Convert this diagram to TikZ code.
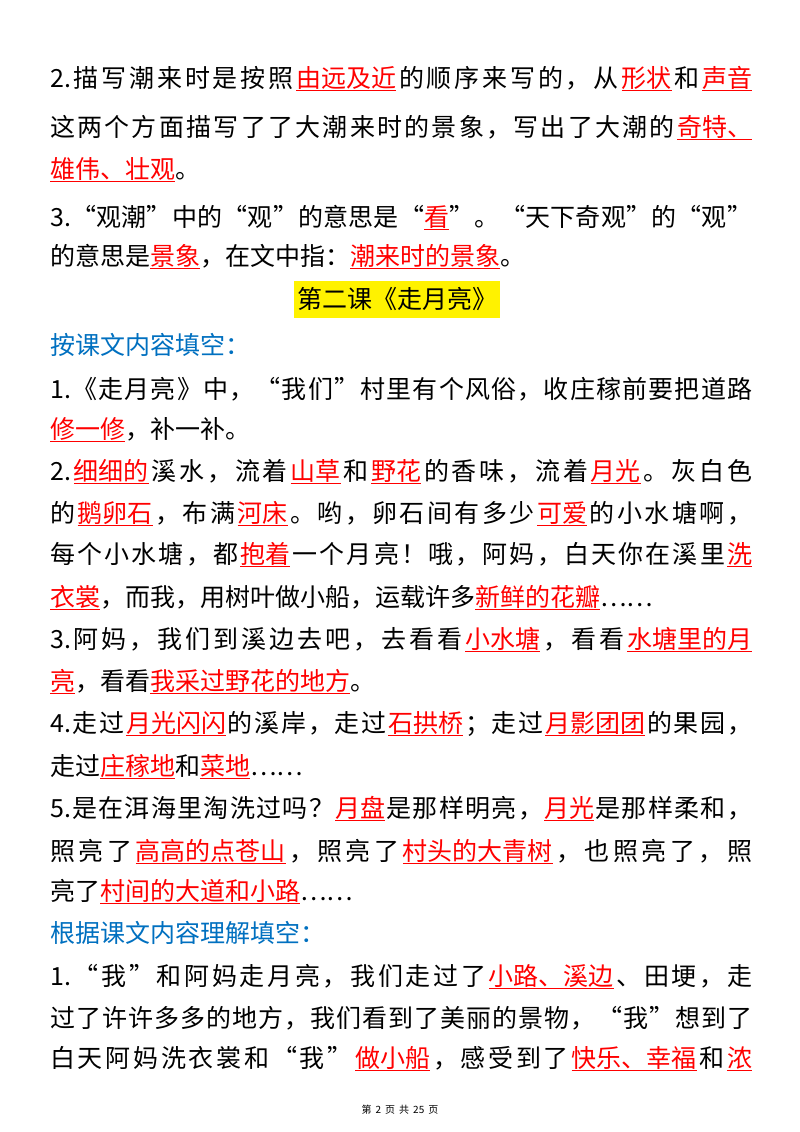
\documentclass[tikz,border=0pt]{standalone}
\usepackage{fontspec}
\setmainfont{Noto Sans CJK SC}
\definecolor{myred}{RGB}{255,0,0}
\definecolor{myblue}{RGB}{0,112,192}
\newcommand{\uu}[1]{{\color{myred}\underline{#1}}}
\makeatletter
\newcommand{\spread}[1]{\hbox to 702pt{\@tfor\xx:=#1\do{\xx\hfil}\unskip}}
\makeatother
\begin{document}
\begin{tikzpicture}[x=1pt,y=1pt,
  ln/.style={anchor=base west,inner sep=0pt,font=\fontsize{25}{30}\selectfont},
  bl/.style={ln,text=myblue}]
\useasboundingbox (0,0) rectangle (800,-1132);
\fill[white] (0,0) rectangle (800,-1132);
\node[ln] (l1) at (50,-87) {\spread{{2.}描写潮来时是按照{\uu{由远及近}}的顺序来写的，从{\uu{形状}}和{\uu{声音}}}};
\node[ln] (l2) at (50,-136) {\spread{这两个方面描写了了大潮来时的景象，写出了大潮的{\uu{奇特、}}}};
\node[ln] (l3) at (50,-178) {\uu{雄伟、壮观}。};
\node[ln] (l4) at (50,-226) {\spread{{3.}“观潮”中的“观”的意思是“{\uu{看}}”。“天下奇观”的“观”}};
\node[ln] (l5) at (50,-265) {的意思是\uu{景象}，在文中指：\uu{潮来时的景象}。};
\node[fill=yellow,inner xsep=3pt,minimum height=37pt,font=\fontsize{25}{30}\selectfont] (h) at (397,-299) {第二课《走月亮》};
\node[bl] (b1) at (50,-354) {按课文内容填空：};
\node[ln] (a1) at (50,-398) {\spread{{1.}《走月亮》中，“我们”村里有个风俗，收庄稼前要把道路}};
\node[ln] (a2) at (50,-438) {\uu{修一修}，补一补。};
\node[ln] (a3) at (50,-480) {\spread{{2.}{\uu{细细的}}溪水，流着{\uu{山草}}和{\uu{野花}}的香味，流着{\uu{月光}}。灰白色}};
\node[ln] (a4) at (50,-522) {\spread{的{\uu{鹅卵石}}，布满{\uu{河床}}。哟，卵石间有多少{\uu{可爱}}的小水塘啊，}};
\node[ln] (a5) at (50,-563) {\spread{每个小水塘，都{\uu{抱着}}一个月亮！哦，阿妈，白天你在溪里{\uu{洗}}}};
\node[ln] (a6) at (50,-606) {\uu{衣裳}，而我，用树叶做小船，运载许多\uu{新鲜的花瓣}⋯⋯};
\node[ln] (a7) at (50,-648) {\spread{{3.}阿妈，我们到溪边去吧，去看看{\uu{小水塘}}，看看{\uu{水塘里的月}}}};
\node[ln] (a8) at (50,-690) {\uu{亮}，看看\uu{我采过野花的地方}。};
\node[ln] (a9) at (50,-732) {\spread{{4.}走过{\uu{月光闪闪}}的溪岸，走过{\uu{石拱桥}}；走过{\uu{月影团团}}的果园，}};
\node[ln] (a10) at (50,-775) {走过\uu{庄稼地}和\uu{菜地}⋯⋯};
\node[ln] (a11) at (50,-817) {\spread{{5.}是在洱海里淘洗过吗？{\uu{月盘}}是那样明亮，{\uu{月光}}是那样柔和，}};
\node[ln] (a12) at (50,-860) {\spread{照亮了{\uu{高高的点苍山}}，照亮了{\uu{村头的大青树}}，也照亮了，照}};
\node[ln] (a13) at (50,-900) {亮了\uu{村间的大道和小路}⋯⋯};
\node[bl] (b2) at (50,-942) {根据课文内容理解填空：};
\node[ln] (c1) at (50,-985) {\spread{{1.}“我”和阿妈走月亮，我们走过了{\uu{小路、溪边}}、田埂，走}};
\node[ln] (c2) at (50,-1027) {\spread{过了许许多多的地方，我们看到了美丽的景物，“我”想到了}};
\node[ln] (c3) at (50,-1067) {\spread{白天阿妈洗衣裳和“我”{\uu{做小船}}，感受到了{\uu{快乐、幸福}}和{\uu{浓}}}};
\node[font=\fontsize{10}{12}\selectfont,inner sep=0pt] (ft) at (400,-1110) {第\hspace{4pt}2\hspace{4pt}页\hspace{4pt}共\hspace{4pt}25\hspace{4pt}页};
\end{tikzpicture}
\end{document}
